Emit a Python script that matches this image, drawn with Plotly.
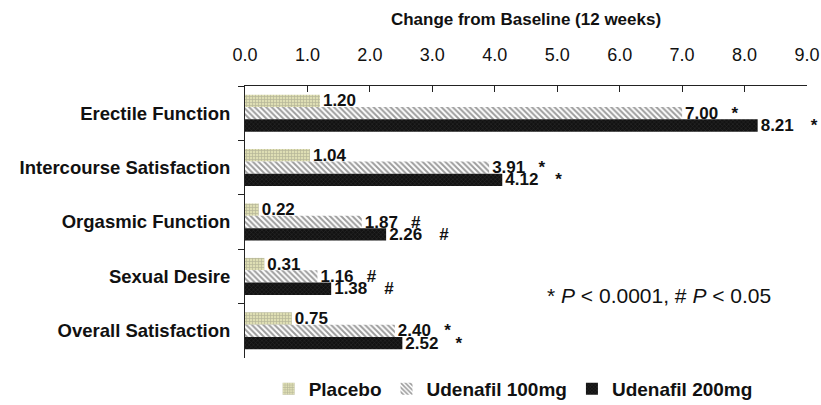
import plotly.graph_objects as go

categories = ["Erectile Function", "Intercourse Satisfaction", "Orgasmic Function",
              "Sexual Desire", "Overall Satisfaction"]
placebo = [1.20, 1.04, 0.22, 0.31, 0.75]
udenafil100 = [7.00, 3.91, 1.87, 1.16, 2.40]
udenafil200 = [8.21, 4.12, 2.26, 1.38, 2.52]
sig100 = ["*", "*", "#", "#", "*"]
sig200 = ["*", "*", "#", "#", "*"]
series_names = ["Placebo", "Udenafil 100mg", "Udenafil 200mg"]
x_ticks = [0, 1, 2, 3, 4, 5, 6, 7, 8, 9]

def labels(vals, sigs=None, gap=""):
    out = []
    for i, v in enumerate(vals):
        s = f"{v:.2f}"
        if sigs:
            s += gap + sigs[i]
        out.append(f"<b>{s}</b>")
    return out

fig = go.Figure()
styles = [
    dict(color="#dedeb4", pattern=dict(shape="+", fgcolor="#8a8a7a", size=3, solidity=0.4, fillmode="overlay")),
    dict(color="#ffffff", pattern=dict(shape="\\", fgcolor="#3a3a3a", size=4, solidity=0.5, fillmode="overlay")),
    dict(color="#121212", pattern=dict(shape="x", fgcolor="#4a4a4a", size=3, solidity=0.3, fillmode="overlay")),
]
data = [(placebo, None, ""), (udenafil100, sig100, "\u2002 "), (udenafil200, sig200, "\u2002\u2002")]
for name, (vals, sigs, gap), st in zip(series_names, data, styles):
    fig.add_trace(go.Bar(
        y=categories, x=vals, name=name, orientation="h",
        marker=dict(color=st["color"], pattern=st["pattern"], line=dict(width=0)),
        text=labels(vals, sigs, gap), textposition="outside", cliponaxis=False,
        constraintext="none",
        textfont=dict(family="Arial", size=17, color="#111"),
    ))

fig.add_annotation(
    x=0.736, y=0.228, xref="paper", yref="paper", xanchor="center", yanchor="middle",
    text="* <i>P</i> < 0.0001, # <i>P</i> < 0.05", showarrow=False,
    font=dict(family="Arial", size=21, color="#111"),
)

fig.update_layout(
    width=821, height=405,
    margin=dict(l=245, r=14, t=86, b=47, autoexpand=False),
    paper_bgcolor="white", plot_bgcolor="white",
    barmode="group", bargap=0.32, bargroupgap=0,
    font=dict(family="Arial", color="#111"),
    showlegend=True,
    legend=dict(orientation="h", x=0.625, xanchor="center", xref="container",
                y=0.04, yanchor="middle", yref="container",
                font=dict(family="Arial", size=19, color="#111", weight="bold"),
                itemwidth=30, traceorder="normal"),
    xaxis=dict(
        side="top", range=[0, 9], tickvals=x_ticks, tickformat=".1f", automargin=False,
        showgrid=False, zeroline=False, showline=True, linecolor="#222", linewidth=1,
        ticks="inside", ticklen=6, tickcolor="#222", ticklabelstandoff=17,
        tickfont=dict(family="Arial", size=18, color="#111"),
        title=dict(text="<b>Change from Baseline (12 weeks)</b>",
                   font=dict(family="Arial", size=17, color="#111"), standoff=14),
    ),
    yaxis=dict(
        autorange="reversed", showgrid=False, showline=True, linecolor="#222", linewidth=1,
        automargin=False,
        ticks="outside", tickson="boundaries", ticklen=6, tickcolor="#222", ticklabelstandoff=10,
        tickfont=dict(family="Arial", size=18.5, color="#111", weight="bold"),
    ),
)

fig.write_html("out.html")
